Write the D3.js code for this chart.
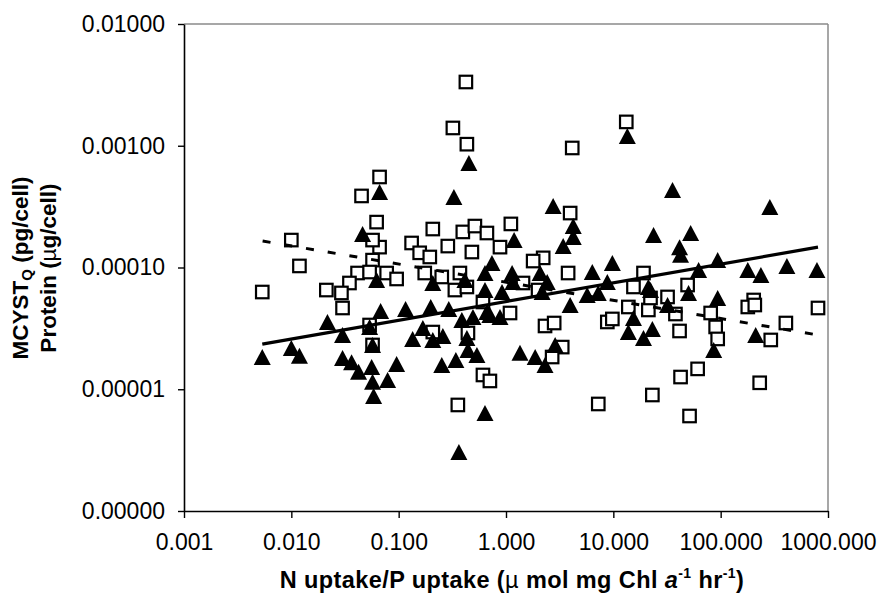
<!DOCTYPE html>
<html>
<head>
<meta charset="utf-8">
<script src="https://cdn.jsdelivr.net/npm/d3@7/dist/d3.min.js"></script>
<style>
  html, body { margin: 0; padding: 0; background: #fff; }
  svg { display: block; }
  text { font-family: "Liberation Sans", Arial, sans-serif; fill: #000; }
</style>
</head>
<body>
<svg id="chart" width="881" height="606"></svg>
<script>
// Open squares: MCYST_Q (pg/cell)
const squareX = [0.423, 0.320, 0.432, 0.0664, 0.0451, 0.0623, 0.0100, 0.0119, 0.00536, 0.132,
  0.208, 0.287, 0.396, 0.513, 0.481, 0.664, 0.0664, 0.157, 0.195, 0.0571,
  0.0414, 0.0536, 0.0773, 0.0957, 0.0348, 0.0212, 0.0293, 0.175, 0.252, 0.372,
  0.334, 0.432, 0.0300, 0.0536, 0.0571, 0.208, 0.442, 0.610, 0.708, 0.356,
  13.2, 4.14, 3.96, 1.11, 0.879, 2.22, 1.79, 3.79, 19.1, 15.4,
  49.2, 1.44, 1.99, 32.0, 203, 0.610, 1.09, 2.31, 2.81, 3.34,
  2.69, 8.79, 9.79, 13.8, 21.2, 22.2, 37.9, 41.4, 80.7, 89.8,
  93.8, 179, 208, 405, 293, 807, 42.3, 61.0, 231, 23.1,
  7.24, 51.3, 0.0571];
const squareY = [0.00334, 0.00140, 0.00103, 0.000554, 0.000387, 0.000236, 0.000168, 0.000103, 0.0000629, 0.000159,
  0.000207, 0.000150, 0.000196, 0.000219, 0.000134, 0.000192, 0.000147, 0.000132, 0.000122, 0.000115,
  0.0000901, 0.0000918, 0.0000901, 0.0000805, 0.0000746, 0.0000653, 0.0000618, 0.0000901, 0.0000836, 0.0000901,
  0.0000653, 0.0000692, 0.0000465, 0.0000337, 0.0000231, 0.0000295, 0.0000290, 0.0000131, 0.0000117, 0.00000743,
  0.00157, 0.000959, 0.000280, 0.000228, 0.000147, 0.000120, 0.000113, 0.0000901, 0.0000901, 0.0000692,
  0.0000718, 0.0000746, 0.0000653, 0.0000573, 0.0000541, 0.0000521, 0.0000423, 0.0000331, 0.0000350, 0.0000222,
  0.0000184, 0.0000357, 0.0000378, 0.0000474, 0.0000448, 0.0000562, 0.0000415, 0.0000301, 0.0000423, 0.0000325,
  0.0000259, 0.0000474, 0.0000492, 0.0000350, 0.0000254, 0.0000465, 0.0000126, 0.0000147, 0.0000113, 0.00000897,
  0.00000757, 0.00000603, 0.000168];

// Filled triangles: protein (ug/cell)
const triangleX = [0.451, 0.0664, 0.327, 0.0461, 0.0623, 0.208, 0.414, 0.637, 0.637, 0.00536,
  0.0100, 0.0119, 0.0217, 0.0300, 0.0300, 0.0364, 0.0423, 0.0560, 0.0571, 0.0789,
  0.0584, 0.0957, 0.0679, 0.0536, 0.0571, 0.116, 0.135, 0.168, 0.199, 0.208,
  0.258, 0.293, 0.252, 0.341, 0.388, 0.492, 0.432, 0.442, 0.536, 0.664,
  0.637, 0.364, 13.5, 35.6, 2.75, 287, 4.23, 4.23, 1.19, 3.41,
  23.7, 52.5, 41.4, 42.3, 0.740, 1.14, 2.08, 1.16, 2.42, 9.79,
  6.37, 8.79, 62.3, 93.8, 179, 237, 414, 789, 21.2, 50.2,
  93.8, 0.918, 2.17, 3.96, 5.71, 7.24, 22.2, 32.0, 0.708, 0.879,
  15.4, 13.8, 23.1, 19.1, 212, 86.1, 1.35, 1.87, 2.31, 2.87];
const triangleY = [0.000722, 0.000417, 0.000380, 0.000188, 0.0000789, 0.0000746, 0.0000789, 0.0000901, 0.0000653, 0.0000184,
  0.0000218, 0.0000188, 0.0000357, 0.0000279, 0.0000181, 0.0000167, 0.0000139, 0.0000152, 0.0000115, 0.0000119,
  0.00000881, 0.0000161, 0.0000439, 0.0000325, 0.0000231, 0.0000456, 0.0000259, 0.0000319, 0.0000474, 0.0000254,
  0.0000274, 0.0000456, 0.0000158, 0.0000174, 0.0000371, 0.0000392, 0.0000264, 0.0000210, 0.0000191, 0.0000431,
  0.00000638, 0.00000305, 0.00120, 0.000433, 0.000320, 0.000314, 0.000219, 0.000178, 0.000168, 0.000150,
  0.000185, 0.000192, 0.000147, 0.000127, 0.000109, 0.0000901, 0.0000901, 0.0000760, 0.0000760, 0.000109,
  0.0000918, 0.0000760, 0.0000953, 0.000115, 0.0000953, 0.0000868, 0.000103, 0.0000953, 0.0000692, 0.0000618,
  0.0000562, 0.0000629, 0.0000629, 0.0000492, 0.0000595, 0.0000618, 0.0000653, 0.0000492, 0.0000407, 0.0000392,
  0.0000385, 0.0000295, 0.0000313, 0.0000264, 0.0000279, 0.0000210, 0.0000199, 0.0000184, 0.0000158, 0.0000231];

// Power trend lines (straight on log-log axes): end points
const trendTriangleX = [0.00536, 807];
const trendTriangleY = [0.0000235, 0.000147];
const trendSquareX = [0.0054, 807];
const trendSquareY = [0.000165, 0.0000279];

// Axis ticks
const xTicks = [0.001, 0.01, 0.1, 1, 10, 100, 1000];
const yTicks = [0.000001, 0.00001, 0.0001, 0.001, 0.01];

const svg = d3.select("#chart");
const plotL = 184, plotR = 828, plotT = 24, plotB = 511;

const x = d3.scaleLog().domain([0.001, 1000]).range([plotL, plotR]);
const y = d3.scaleLog().domain([0.000001, 0.01]).range([plotB, plotT]);

// Frame: light top and right edges
svg.append("line").attr("x1", plotL).attr("x2", plotR).attr("y1", plotT).attr("y2", plotT)
  .attr("stroke", "#8a8a8a").attr("stroke-width", 1.5);
svg.append("line").attr("x1", plotR).attr("x2", plotR).attr("y1", plotT).attr("y2", plotB)
  .attr("stroke", "#8a8a8a").attr("stroke-width", 1.5);

const xFmt = d => d3.format(".3f")(d);
const yFmt = d => d3.format(".5f")(d);

const gx = svg.append("g").attr("transform", `translate(0,${plotB})`)
  .call(d3.axisBottom(x).tickValues(xTicks).tickFormat(xFmt).tickSize(7).tickSizeOuter(0).tickPadding(16));
const gy = svg.append("g").attr("transform", `translate(${plotL},0)`)
  .call(d3.axisLeft(y).tickValues(yTicks).tickFormat(yFmt).tickSize(6).tickSizeOuter(0).tickPadding(13));

[gx, gy].forEach(g => {
  g.select(".domain").attr("stroke", "#000").attr("stroke-width", 1.6);
  g.selectAll(".tick line").attr("stroke", "#000").attr("stroke-width", 1.4);
  g.selectAll(".tick text").attr("font-size", 23).attr("font-family", "Liberation Sans, Arial, sans-serif").attr("fill", "#000");
});

// Markers
const squares = squareX.map((v, i) => [v, squareY[i]]);
const triangles = triangleX.map((v, i) => [v, triangleY[i]]);

const sq = 12.5;
svg.append("g").selectAll("rect").data(squares).join("rect")
  .attr("x", d => x(d[0]) - sq / 2).attr("y", d => y(d[1]) - sq / 2)
  .attr("width", sq).attr("height", sq)
  .attr("fill", "#fff").attr("stroke", "#000").attr("stroke-width", 2.2);

const tw = 17, th = 16;
svg.append("g").selectAll("path").data(triangles).join("path")
  .attr("d", d => {
    const cx = x(d[0]), cy = y(d[1]);
    return `M${cx},${cy - th / 2}L${cx + tw / 2},${cy + th / 2}L${cx - tw / 2},${cy + th / 2}Z`;
  })
  .attr("fill", "#000");

// Trend lines
const line = d3.line().x(d => x(d[0])).y(d => y(d[1]));
svg.append("path")
  .attr("d", line(trendSquareX.map((v, i) => [v, trendSquareY[i]])))
  .attr("fill", "none").attr("stroke", "#000").attr("stroke-width", 3)
  .attr("stroke-dasharray", "8,14");
svg.append("path")
  .attr("d", line(trendTriangleX.map((v, i) => [v, trendTriangleY[i]])))
  .attr("fill", "none").attr("stroke", "#000").attr("stroke-width", 3.2);

// Axis titles
const yt1 = svg.append("text").attr("transform", "translate(28,268) rotate(-90)")
  .attr("text-anchor", "middle").attr("font-size", 22.5).attr("font-weight", "bold");
yt1.append("tspan").text("MCYST");
yt1.append("tspan").attr("font-size", 15).attr("dy", 4).text("Q");
yt1.append("tspan").attr("dy", -4).text(" (pg/cell)");

const yt2 = svg.append("text").attr("transform", "translate(56,268) rotate(-90)")
  .attr("text-anchor", "middle").attr("font-size", 22.5).attr("font-weight", "bold");
yt2.append("tspan").text("Protein (");
yt2.append("tspan").attr("font-weight", "normal").text("\u00b5");
yt2.append("tspan").text("g/cell)");

const xt = svg.append("text").attr("x", 512).attr("y", 588)
  .attr("text-anchor", "middle").attr("font-size", 23.5).attr("font-weight", "bold")
  .attr("letter-spacing", 0.4);
xt.append("tspan").text("N uptake/P uptake (");
xt.append("tspan").attr("font-weight", "normal").text("\u00b5 ");
xt.append("tspan").text("mol mg Chl ");
xt.append("tspan").attr("font-style", "italic").text("a");
xt.append("tspan").attr("font-size", 14).attr("dy", -10).text("-1");
xt.append("tspan").attr("dy", 10).text(" hr");
xt.append("tspan").attr("font-size", 14).attr("dy", -10).text("-1");
xt.append("tspan").attr("dy", 10).text(")");
</script>
</body>
</html>
